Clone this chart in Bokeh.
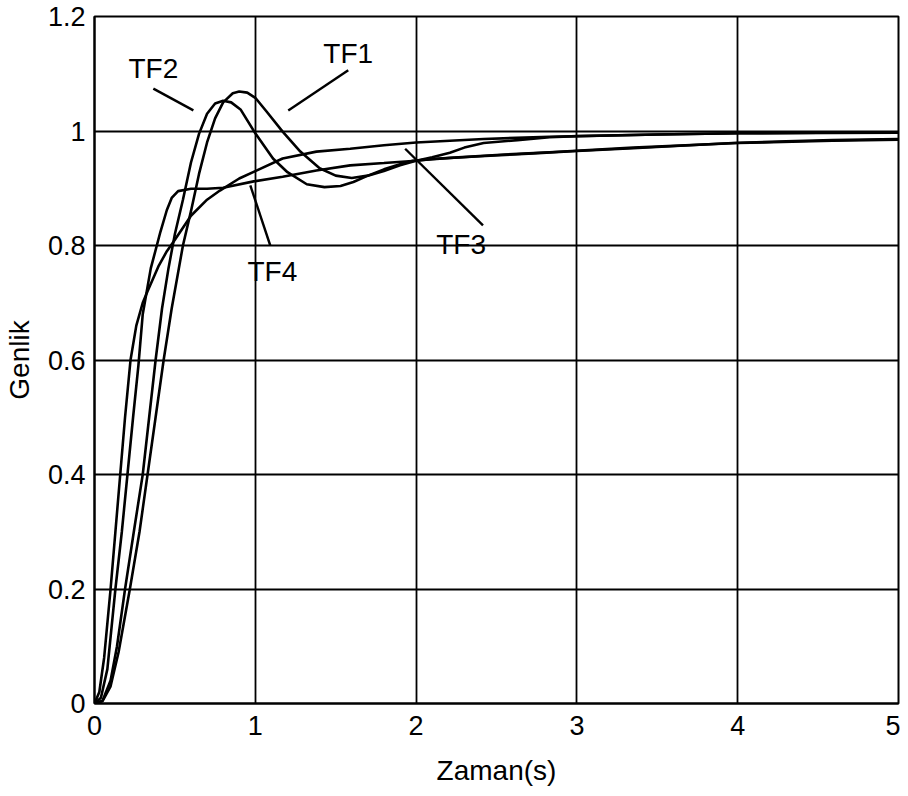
from bokeh.plotting import figure
from bokeh.models import Range1d, FixedTicker, ColumnDataSource
from bokeh.core.properties import value
from bokeh.embed import file_html
from bokeh.resources import INLINE

# ---- data ----
t_tf1 = [0, 0.05, 0.1, 0.15, 0.22, 0.28, 0.33, 0.38, 0.43, 0.48, 0.55, 0.6, 0.65, 0.7, 0.75, 0.8, 0.86, 0.9, 0.95, 1.0, 1.07, 1.17, 1.28, 1.4, 1.5, 1.6, 1.7, 1.8, 1.9, 2.0, 2.1, 2.21, 2.3, 2.42, 2.63, 2.83, 3.0, 3.5, 4.0, 4.5, 5.0]
y_tf1 = [0, 0.004, 0.03, 0.09, 0.2, 0.3, 0.4, 0.5, 0.6, 0.69, 0.8, 0.86, 0.925, 0.98, 1.022, 1.05, 1.066, 1.069, 1.067, 1.058, 1.034, 0.999, 0.964, 0.935, 0.922, 0.918, 0.922, 0.93, 0.94, 0.948, 0.954, 0.962, 0.971, 0.979, 0.984, 0.989, 0.991, 0.994, 0.996, 0.997, 0.997]

t_tf2 = [0, 0.05, 0.1, 0.14, 0.19, 0.25, 0.3, 0.34, 0.38, 0.42, 0.46, 0.5, 0.55, 0.6, 0.65, 0.7, 0.75, 0.8, 0.85, 0.91, 1.0, 1.11, 1.2, 1.32, 1.43, 1.53, 1.61, 1.7, 1.8, 1.9, 1.98, 2.21, 2.5, 2.83, 3.35, 4.0, 4.59, 5.0]
y_tf2 = [0, 0.005, 0.04, 0.1, 0.2, 0.31, 0.4, 0.5, 0.6, 0.69, 0.76, 0.82, 0.88, 0.945, 0.995, 1.03, 1.048, 1.053, 1.05, 1.037, 0.996, 0.952, 0.928, 0.907, 0.902, 0.904, 0.911, 0.922, 0.933, 0.942, 0.948, 0.953, 0.958, 0.963, 0.971, 0.979, 0.983, 0.985]

t_tf3 = [0, 0.03, 0.06, 0.1, 0.13, 0.16, 0.19, 0.224, 0.26, 0.3, 0.33, 0.4, 0.45, 0.5, 0.6, 0.7, 0.78, 0.9, 1.0, 1.17, 1.38, 1.59, 1.8, 2.0, 2.42, 2.83, 3.5, 4.0, 5.0]
y_tf3 = [0, 0.02, 0.08, 0.2, 0.3, 0.4, 0.5, 0.6, 0.66, 0.7, 0.72, 0.765, 0.79, 0.81, 0.852, 0.88, 0.896, 0.917, 0.93, 0.952, 0.964, 0.969, 0.975, 0.98, 0.986, 0.99, 0.994, 0.996, 0.997]

t_tf4 = [0, 0.04, 0.08, 0.13, 0.17, 0.205, 0.24, 0.273, 0.3, 0.35, 0.41, 0.45, 0.48, 0.52, 0.6, 0.7, 0.8, 0.99, 1.17, 1.38, 1.59, 1.8, 2.0, 2.1, 2.4, 2.73, 3.0, 3.35, 3.7, 3.97, 4.3, 4.59, 5.0]
y_tf4 = [0, 0.01, 0.06, 0.2, 0.3, 0.4, 0.5, 0.59, 0.68, 0.76, 0.824, 0.862, 0.883, 0.895, 0.899, 0.899, 0.901, 0.912, 0.92, 0.931, 0.94, 0.944, 0.948, 0.951, 0.956, 0.961, 0.965, 0.97, 0.975, 0.979, 0.982, 0.984, 0.986]

label_names = ["TF1", "TF2", "TF3", "TF4"]
label_t = [1.578, 0.366, 2.28, 1.106]
label_y = [1.135, 1.109, 0.802, 0.754]
pointer_t0 = [1.578, 0.366, 1.932, 0.969]
pointer_y0 = [1.106, 1.074, 0.969, 0.905]
pointer_t1 = [1.205, 0.615, 2.416, 1.093]
pointer_y1 = [1.036, 1.036, 0.835, 0.800]

x_ticks = [0, 1, 2, 3, 4, 5]
x_tick_labels = ["0", "1", "2", "3", "4", "5"]
y_ticks = [0, 0.2, 0.4, 0.6, 0.8, 1.0, 1.2]
y_tick_labels = ["0", "0.2", "0.4", "0.6", "0.8", "1", "1.2"]

FONT = "Liberation Sans"

p = figure(frame_width=804, frame_height=687, output_backend="svg", toolbar_location=None,
           x_range=Range1d(0, 5), y_range=Range1d(0, 1.2),
           min_border_left=86, min_border_top=16, min_border_right=2, min_border_bottom=74)
p.background_fill_color = "white"
p.border_fill_color = "white"
p.outline_line_color = "black"
p.outline_line_width = 2

for ax in (p.xaxis[0], p.yaxis[0]):
    ax.axis_line_color = "black"
    ax.axis_line_width = 2
    ax.major_tick_out = 0
    ax.major_tick_in = 0
    ax.minor_tick_out = 0
    ax.minor_tick_in = 0
    ax.major_label_text_font = FONT
    ax.major_label_text_font_size = "27px"
    ax.major_label_text_color = "black"
    ax.axis_label_text_font = FONT
    ax.axis_label_text_font_size = "28px"
    ax.axis_label_text_font_style = "normal"
    ax.axis_label_text_color = "black"

p.xaxis[0].ticker = FixedTicker(ticks=x_ticks)
p.xaxis[0].major_label_overrides = dict(zip(x_ticks, x_tick_labels))
p.yaxis[0].ticker = FixedTicker(ticks=y_ticks)
p.yaxis[0].major_label_overrides = dict(zip(y_ticks, y_tick_labels))
p.xaxis[0].axis_label = "Zaman(s)"
p.yaxis[0].axis_label = "Genlik"
p.xaxis[0].major_label_standoff = 12
p.xaxis[0].axis_label_standoff = 17
p.yaxis[0].major_label_standoff = 9
p.yaxis[0].axis_label_standoff = 10

p.xgrid.grid_line_color = "black"
p.ygrid.grid_line_color = "black"
p.xgrid.grid_line_width = 1.8
p.ygrid.grid_line_width = 1.8
p.xgrid.grid_line_alpha = 1
p.ygrid.grid_line_alpha = 1

for t, y in ((t_tf1, y_tf1), (t_tf2, y_tf2), (t_tf3, y_tf3), (t_tf4, y_tf4)):
    p.line(t, y, line_color="black", line_width=2.6)

p.segment(x0=pointer_t0, y0=pointer_y0, x1=pointer_t1, y1=pointer_y1,
          line_color="black", line_width=2.4)

src = ColumnDataSource(dict(x=label_t, y=label_y, text=label_names))
p.text(x="x", y="y", text="text", source=src, text_font=value(FONT),
       text_font_size="28px", text_color="black", text_align="center",
       text_baseline="middle")

open("out.html", "w").write(file_html(p, INLINE))
